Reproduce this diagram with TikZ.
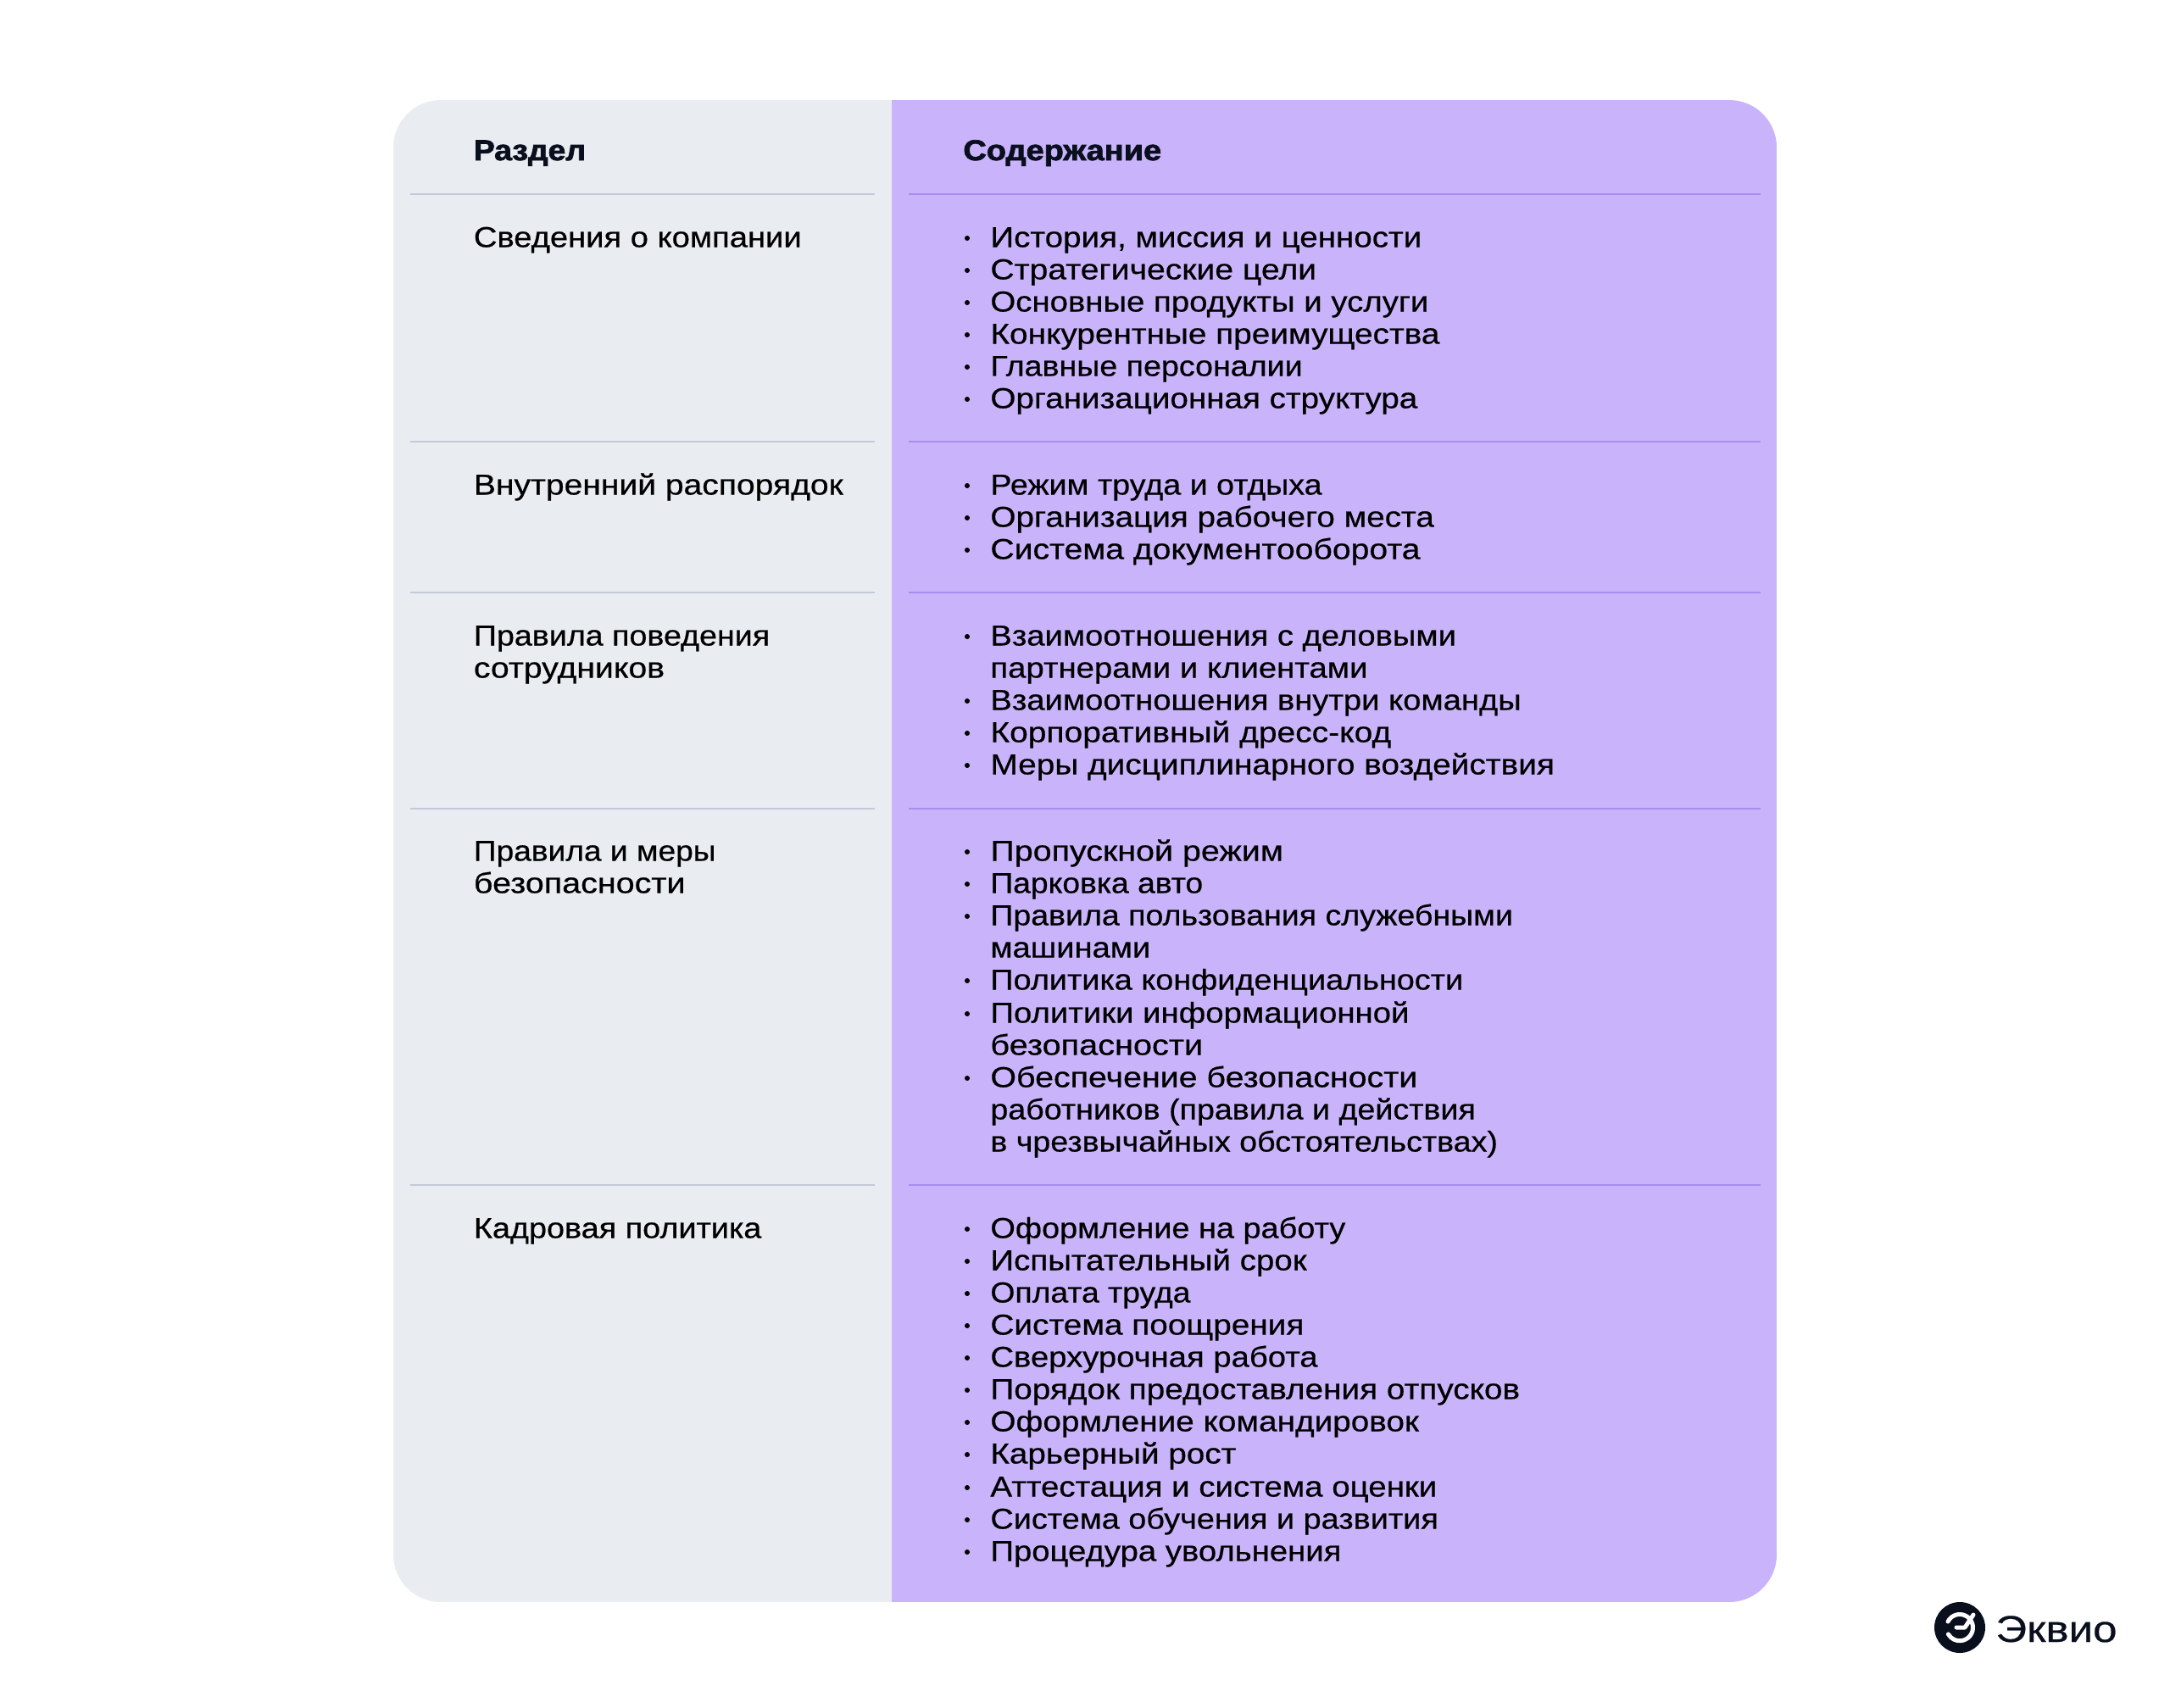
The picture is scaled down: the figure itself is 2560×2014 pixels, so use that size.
\documentclass[tikz,border=0pt]{standalone}
\usepackage{graphicx}
\usepackage{fontspec}
\setmainfont[FakeStretch=1.13,FakeBold=0.55]{Liberation Sans}
\newfontfamily\headfont[FakeStretch=1.11,FakeBold=2.2]{Liberation Sans Bold}
\newfontfamily\logofont[FakeStretch=1.16,FakeBold=0.5]{Liberation Sans}
\definecolor{greypanel}{HTML}{E9ECF1}
\definecolor{violetpanel}{HTML}{C9B4FC}
\definecolor{greyrule}{HTML}{C2C9DA}
\definecolor{violetrule}{HTML}{A98CF0}
\definecolor{ink}{HTML}{0A0F1E}
\tikzset{
  x=0.5pt,y=-0.5pt,
  bodytext/.style={anchor=base west,inner sep=0pt,text=black,font=\fontsize{17}{19}\selectfont},
  headtext/.style={anchor=base west,inner sep=0pt,text=ink,font=\headfont\fontsize{17}{19}\selectfont},
  dot/.style={circle,fill=black,inner sep=0pt,minimum size=3pt},
}
\newcounter{itemno}
% \fitto{start px}{right edge in the 1568-wide view}{text}: text set to span exactly that width
\newcommand\fitto[3]{\pgfmathsetmacro\fitwd{(#2*1.63265-#1)*0.5}\resizebox{\fitwd pt}{\height}{#3}}
\newcommand\lefttext[3]{\stepcounter{itemno}\node[bodytext] (L\theitemno) at (558.5,#1-0.5) {\fitto{558.5}{#2}{#3}};}
\newcommand\contline[3]{\stepcounter{itemno}\node[bodytext] (C\theitemno) at (1168,#1-0.5) {\fitto{1168}{#2}{#3}};}
\newcommand\bulletline[3]{\stepcounter{itemno}\node[dot] (B\theitemno) at (1141,#1-11) {};\node[bodytext] (C\theitemno) at (1168,#1-0.5) {\fitto{1168}{#2}{#3}};}
\begin{document}
\begin{tikzpicture}
\useasboundingbox (0,0) rectangle (2560,2014);
\fill[white] (0,0) rectangle (2560,2014);
% panels
\begin{scope}
  \clip[rounded corners=28pt] (464,118) rectangle (2096,1890);
  \fill[greypanel] (464,118) rectangle (1052,1890);
  \fill[violetpanel] (1052,118) rectangle (2096,1890);
\end{scope}
% rules
\foreach \y in {229,521,699,954,1398}{
  \draw[greyrule,line width=1pt] (484,\y) -- (1032,\y);
  \draw[violetrule,line width=1pt] (1072,\y) -- (2077,\y);
}
% headers
\node[headtext] (h1) at (558.5,189) {\fitto{558.5}{423}{Раздел}};
\node[headtext] (h2) at (1136,189) {\fitto{1136}{839}{Содержание}};
% left column
\lefttext{292}{579}{Сведения о компании}
\lefttext{584}{609}{Внутренний распорядок}
\lefttext{762}{556}{Правила поведения}
\lefttext{800}{480}{сотрудников}
\lefttext{1016}{517}{Правила и меры}
\lefttext{1054}{495}{безопасности}
\lefttext{1461}{550}{Кадровая политика}
% right column
\bulletline{292}{1027}{История, миссия и ценности}
\bulletline{330}{951}{Стратегические цели}
\bulletline{368}{1032}{Основные продукты и услуги}
\bulletline{406}{1040}{Конкурентные преимущества}
\bulletline{444}{941}{Главные персоналии}
\bulletline{482}{1024}{Организационная структура}
\bulletline{584}{955}{Режим труда и отдыха}
\bulletline{622}{1036}{Организация рабочего места}
\bulletline{660}{1026}{Система документооборота}
\bulletline{762}{1052}{Взаимоотношения с деловыми}
\contline{800}{988}{партнерами и клиентами}
\bulletline{838}{1099}{Взаимоотношения внутри команды}
\bulletline{876}{1005}{Корпоративный дресс-код}
\bulletline{914}{1123}{Меры дисциплинарного воздействия}
\bulletline{1016}{927}{Пропускной режим}
\bulletline{1054}{869}{Парковка авто}
\bulletline{1092}{1093}{Правила пользования служебными}
\contline{1130}{831}{машинами}
\bulletline{1168}{1057}{Политика конфиденциальности}
\bulletline{1207}{1018}{Политики информационной}
\contline{1245}{869}{безопасности}
\bulletline{1283}{1024}{Обеспечение безопасности}
\contline{1321}{1066}{работников (правила и действия}
\contline{1359}{1082}{в чрезвычайных обстоятельствах)}
\bulletline{1461}{972}{Оформление на работу}
\bulletline{1499}{944}{Испытательный срок}
\bulletline{1537}{860}{Оплата труда}
\bulletline{1575}{942}{Система поощрения}
\bulletline{1613}{952}{Сверхурочная работа}
\bulletline{1651}{1098}{Порядок предоставления отпусков}
\bulletline{1689}{1025}{Оформление командировок}
\bulletline{1727}{893}{Карьерный рост}
\bulletline{1766}{1038}{Аттестация и система оценки}
\bulletline{1804}{1039}{Система обучения и развития}
\bulletline{1842}{969}{Процедура увольнения}
% logo
\fill[ink] (2312,1920) circle[radius=30];
\draw[white,line width=2.5pt,line cap=round] (2298,1913) arc[start angle=-153,end angle=150,radius=15.6];
\draw[white,line width=2.5pt,line cap=round,line join=round] (2308,1920) -- (2318,1920) -- (2328,1905);
\node[anchor=base west,inner sep=0pt,text=ink,font=\logofont\fontsize{22}{24}\selectfont] (logo) at (2354,1937) {Эквио};
\end{tikzpicture}
\end{document}
